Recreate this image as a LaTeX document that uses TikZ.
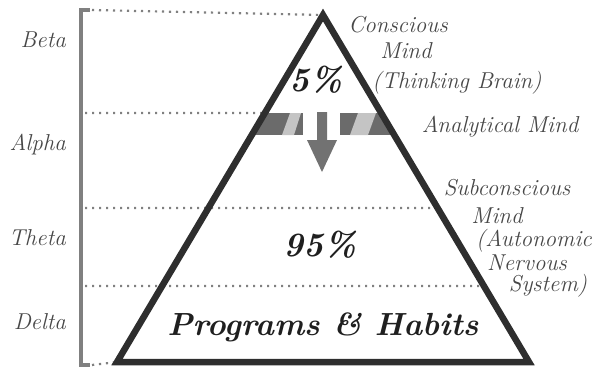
\documentclass[tikz,border=0pt]{standalone}
\usepackage{tikz}
\usetikzlibrary{calc}
\definecolor{bracketgray}{HTML}{808080}
\definecolor{labelgray}{HTML}{474747}
\definecolor{banddark}{HTML}{6B6B6B}
\definecolor{bandlight}{HTML}{C4C4C4}
\definecolor{arrowgray}{HTML}{727272}
\definecolor{edgegray}{HTML}{2E2E2E}

\begin{document}
\begin{tikzpicture}[x=1pt,y=-1pt,
    wave/.style={font=\fontsize{23}{25}\selectfont\itshape, text=labelgray, inner sep=0pt},
    big/.style={font=\fontsize{34}{36}\selectfont\bfseries\itshape, text=black!88, inner sep=0pt},
    dotline/.style={bracketgray, line width=2.2pt, dash pattern=on 2.2pt off 4.8pt}]
    \useasboundingbox (0,0) rectangle (593,372);
    \coordinate (apex) at (323,15);
    \coordinate (bl) at (117,362);
    \coordinate (br) at (529,362);
    % analytical band
    \begin{scope}
      \clip (apex) -- (bl) -- (br) -- cycle;
      \fill[banddark] (240,113) rectangle (303,135);
      \fill[banddark] (340,113) rectangle (410,135);
      \fill[bandlight] (290,113) -- (301,113) -- (294,135) -- (282,135) -- cycle;
      \fill[bandlight] (358,113) -- (376,113) -- (368,135) -- (350,135) -- cycle;
    \end{scope}
    \fill[arrowgray] (317,112) -- (327,112) -- (327,140) -- (337,140) -- (322,172)
      -- (307,140) -- (317,140) -- cycle;
    % bracket and levels
    \draw[bracketgray, line width=3.2pt] (90,10) -- (81,10) -- (81,365) -- (90,365);
    \draw[dotline] (92,10) -- (apex);
    \draw[dotline] (85,113) -- ($(apex)!{98/347}!(bl)$);
    \draw[dotline] (85,208) -- ($(apex)!{193/347}!(br)$);
    \draw[dotline] (85,286) -- ($(apex)!{271/347}!(br)$);
    \draw[dotline] (92,365) -- (bl);
    \draw[edgegray, line width=6.5pt] (apex) -- (bl) -- (br) -- cycle;
    % waves
    \node[wave, anchor=east] (beta) at (66,40) {Beta};
    \node[wave, anchor=east] (alpha) at (66,145) {Alpha};
    \node[wave, anchor=east] (theta) at (66,238) {Theta};
    \node[wave, anchor=east] (delta) at (66,322) {Delta};
    % minds
    \node[wave] (conscious) at (398,25) {Conscious};
    \node[wave] (cmind) at (406,51) {Mind};
    \node[wave] (thinking) at (457,83) {(Thinking Brain)};
    \node[wave] (analytical) at (500,127) {Analytical Mind};
    \node[wave] (subconscious) at (507,188) {Subconscious};
    \node[wave] (smind) at (497,216) {Mind};
    \node[wave] (autonomic) at (534,241) {(Autonomic};
    \node[wave] (nervous) at (527,263) {Nervous};
    \node[wave] (system) at (548,286) {System)};
    \node[big] (five) at (316,80) {5\%};
    \node[big] (ninetyfive) at (320,245) {95\%};
    \node[big, font=\fontsize{32}{34}\selectfont\bfseries\itshape] (programs) at (323,327) {Programs \& Habits};
\end{tikzpicture}
\end{document}
